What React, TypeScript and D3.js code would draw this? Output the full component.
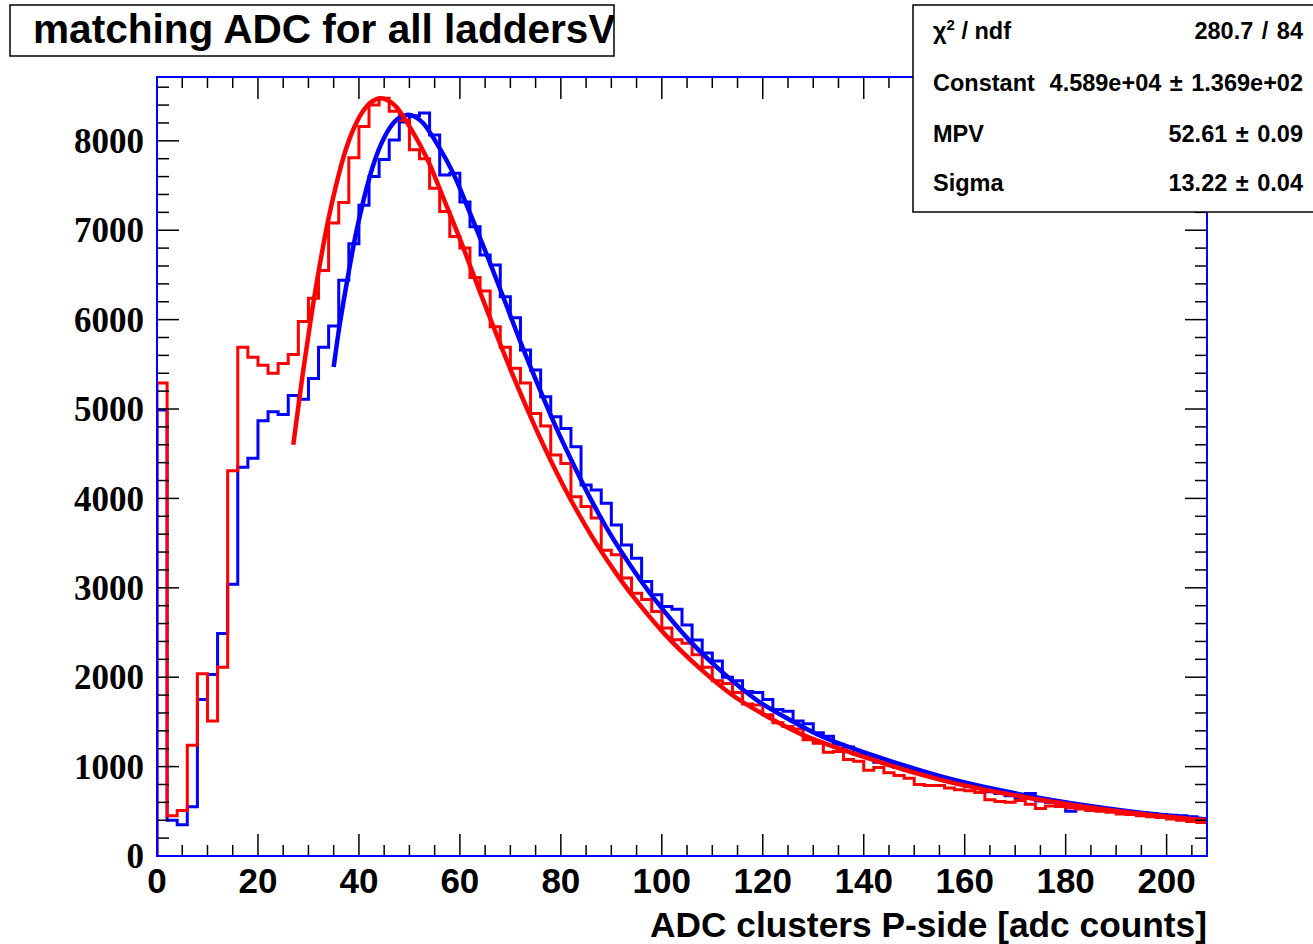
import React from 'react';
import * as d3 from 'd3';

// ---------------- data ----------------
const BIN_WIDTH = 2;
const X_DOMAIN = [0, 208];
const Y_DOMAIN = [0, 8714];

// red histogram, bins [0,2), [2,4), ... [206,208)
const redCounts = [
  5290, 450, 510, 1240, 2040, 1510, 2110, 4310, 5690, 5580,
  5490, 5400, 5510, 5610, 5980, 6240, 6550, 7080, 7310, 7810,
  8160, 8400, 8475, 8330, 8230, 7900, 7800, 7470, 7210, 6930,
  6800, 6470, 6320, 5920, 5690, 5455, 5290, 4950, 4810, 4485,
  4390, 4020, 3910, 3780, 3420, 3370, 3110, 2940, 2870, 2735,
  2550, 2420, 2380, 2250, 2110, 1960, 1930, 1830, 1700, 1690,
  1580, 1490, 1450, 1420, 1300, 1260, 1160, 1170, 1080, 1060,
  960, 990, 930, 900, 870, 800, 790, 790, 760, 740,
  730, 710, 630, 610, 600, 620, 580, 530, 560, 555,
  540, 525, 510, 500, 490, 470, 465, 450, 440, 430,
  415, 400, 385, 375,
];

// blue histogram
const blueCounts = [
  4990, 400, 350, 550, 1750, 2030, 2490, 3040, 4350, 4450,
  4870, 4970, 4940, 5150, 5110, 5340, 5690, 5930, 6440, 6850,
  7280, 7600, 7790, 8010, 8210, 8280, 8310, 8065, 7617, 7636,
  7317, 7040, 6723, 6611, 6257, 6020, 5660, 5436, 5137, 4913,
  4783, 4578, 4150, 4094, 3945, 3703, 3480, 3331, 3070, 2921,
  2791, 2760, 2585, 2417, 2270, 2180, 2000, 1960, 1840, 1830,
  1750, 1640, 1620, 1510, 1480, 1380, 1340, 1250, 1220, 1140,
  1110, 1050, 1040, 990, 960, 930, 900, 870, 840, 810,
  780, 760, 720, 700, 675, 650, 700, 615, 600, 590,
  500, 560, 545, 530, 520, 505, 495, 485, 475, 465,
  455, 450, 440, 420,
];

// fitted curves (sample points of the drawn fit lines)
const blueFitX = [
  35.0, 36.09, 37.74, 39.39, 41.04, 42.7, 44.35, 46.0, 47.8, 49.66, 51.1, 52.61, 54.27, 55.92,
  57.57, 59.22, 60.88, 62.53, 64.18, 65.83, 69.14, 72.44, 75.75, 79.05, 82.36, 85.66, 88.97,
  92.27, 95.58, 98.88, 105.49, 112.1, 118.71, 125.32, 131.93, 145.15, 158.37, 171.59, 184.81,
  198.03, 208,
];
const blueFitY = [
  5470, 5906, 6457, 6957, 7365, 7705, 7957, 8136, 8251, 8292, 8270, 8205, 8077, 7925,
  7760, 7572, 7346, 7118, 6888, 6654, 6172, 5686, 5231, 4795, 4396, 4020, 3680,
  3378, 3102, 2850, 2409, 2051, 1748, 1524, 1331, 1065, 844, 684, 560,
  463, 407,
];

const redFitX = [
  27.0, 28.9, 30.55, 32.2, 33.9, 35.58, 37.25, 38.93, 40.6, 42.42, 44.31, 45.77, 47.3, 48.98,
  50.65, 52.33, 54.0, 55.68, 57.35, 59.03, 60.7, 64.05, 67.4, 70.75, 74.1, 77.45, 80.8, 84.15,
  87.5, 90.85, 94.2, 100.9, 107.6, 114.3, 121.0, 127.7, 141.1, 154.5, 167.9, 181.3, 194.7, 208,
];
const redFitY = [
  4600, 5404, 6036, 6599, 7110, 7527, 7875, 8132, 8315, 8433, 8475, 8451, 8386, 8254,
  8100, 7931, 7739, 7509, 7274, 7040, 6801, 6299, 5811, 5342, 4901, 4488, 4108, 3766,
  3452, 3170, 2912, 2462, 2096, 1787, 1557, 1360, 1088, 863, 699, 572, 474, 399,
];

const xTickLabels = [0, 20, 40, 60, 80, 100, 120, 140, 160, 180, 200];
const yTickLabels = [0, 1000, 2000, 3000, 4000, 5000, 6000, 7000, 8000];

const titleText = 'matching ADC for all laddersV';
const xAxisTitle = 'ADC clusters P-side [adc counts]';
const statNames = ['chi2', 'Constant', 'MPV', 'Sigma'];
const statValues = ['280.7 / 84', '4.589e+04 \u00b1 1.369e+02', '52.61 \u00b1 0.09', '13.22 \u00b1 0.04'];

// ---------------- layout ----------------
const W = 1313;
const H = 944;
const M = { left: 157, right: 1207, top: 77, bottom: 856 };
const SANS = '"Liberation Sans", Arial, Helvetica, sans-serif';
const SERIF = '"Liberation Serif", "Times New Roman", serif';

export default function App() {
  const x = d3.scaleLinear().domain(X_DOMAIN).range([M.left, M.right]);
  const y = d3.scaleLinear().domain(Y_DOMAIN).range([M.bottom, M.top]);

  const histPath = (counts: number[]) => {
    const pts: [number, number][] = [[0, 0]];
    counts.forEach((c, i) => pts.push([i * BIN_WIDTH, c]));
    pts.push([counts.length * BIN_WIDTH, counts[counts.length - 1]]);
    return d3
      .line<[number, number]>()
      .x((d) => x(d[0]))
      .y((d) => y(d[1]))
      .curve(d3.curveStepAfter)(pts) as string;
  };

  const fitPath = (xs: number[], ys: number[]) =>
    d3
      .line<number>()
      .x((_, i) => x(xs[i]))
      .y((d) => y(d))
      .curve(d3.curveCatmullRom.alpha(0.5))(ys) as string;

  const xMinor = d3.range(0, 208.01, 5);
  const yMinor = d3.range(0, 8714, 200);

  return (
    <svg
      width={W}
      height={H}
      style={{ position: 'fixed', left: 0, top: 0, background: '#fff' }}
      xmlns="http://www.w3.org/2000/svg"
    >
      <defs>
        <clipPath id="frameClip">
          <rect x={M.left} y={M.top} width={M.right - M.left} height={M.bottom - M.top} />
        </clipPath>
        <clipPath id="titleClip">
          <rect x={10} y={5} width={604} height={51} />
        </clipPath>
      </defs>
      <rect x={0} y={0} width={W} height={H} fill="#fff" />

      {/* data */}
      <g clipPath="url(#frameClip)" fill="none">
        <path d={histPath(blueCounts)} stroke="#0000ff" strokeWidth={3} />
        <path d={histPath(redCounts)} stroke="#ff0000" strokeWidth={3} />
        <path d={fitPath(blueFitX, blueFitY)} stroke="#0000ff" strokeWidth={4.5} strokeLinejoin="round" />
        <path d={fitPath(redFitX, redFitY)} stroke="#ff0000" strokeWidth={4.5} strokeLinejoin="round" />
      </g>

      {/* ticks */}
      <g stroke="#000" strokeWidth={1.5}>
        {xMinor.map((v) => {
          const major = v % 20 === 0;
          const len = major ? 22 : 11;
          return (
            <g key={'xt' + v}>
              <line x1={x(v)} x2={x(v)} y1={M.bottom} y2={M.bottom - len} />
              <line x1={x(v)} x2={x(v)} y1={M.top} y2={M.top + len} />
            </g>
          );
        })}
        {yMinor.map((v) => {
          const major = v % 1000 === 0;
          const len = major ? 22 : 12;
          return (
            <g key={'yt' + v}>
              <line x1={M.left} x2={M.left + len} y1={y(v)} y2={y(v)} />
              <line x1={M.right} x2={M.right - len} y1={y(v)} y2={y(v)} />
            </g>
          );
        })}
      </g>

      {/* frame */}
      <rect
        x={M.left}
        y={M.top}
        width={M.right - M.left}
        height={M.bottom - M.top}
        fill="none"
        stroke="#0000ff"
        strokeWidth={2}
      />

      {/* tick labels */}
      <g fontFamily={SANS} fontWeight="bold" fontSize={35} fill="#000" textAnchor="middle">
        {xTickLabels.map((v) => (
          <text key={'xl' + v} x={x(v)} y={893}>
            {v}
          </text>
        ))}
      </g>
      <g fontFamily={SERIF} fontWeight="bold" fontSize={35} fill="#000" textAnchor="end">
        {yTickLabels.map((v) => (
          <text key={'yl' + v} x={144} y={y(v)} dy="0.35em">
            {v}
          </text>
        ))}
      </g>

      {/* axis title */}
      <text x={M.right} y={937} textAnchor="end" fontFamily={SANS} fontWeight="bold" fontSize={35.3} fill="#000">
        {xAxisTitle}
      </text>

      {/* title box */}
      <rect x={10} y={5} width={604} height={51} fill="#fff" stroke="#000" strokeWidth={1.5} />
      <g clipPath="url(#titleClip)">
        <text x={33} y={43} fontFamily={SANS} fontWeight="bold" fontSize={40.6} fill="#000">
          {titleText}
        </text>
      </g>

      {/* stats box */}
      <rect x={913} y={5} width={420} height={207} fill="#fff" stroke="#000" strokeWidth={1.5} />
      <g fontFamily={SANS} fontWeight="bold" fontSize={23.5} fill="#000">
        {statNames.map((n, i) => {
          const by = [39, 91, 142, 191][i];
          return (
            <g key={n}>
              {n === 'chi2' ? (
                <text x={933} y={by}>
                  {'\u03c7'}
                  <tspan dy={-9} fontSize={15}>
                    2
                  </tspan>
                  <tspan dy={9}>{' / ndf'}</tspan>
                </text>
              ) : (
                <text x={933} y={by}>
                  {n}
                </text>
              )}
              <text x={1303} y={by} textAnchor="end" wordSpacing={2}>
                {statValues[i]}
              </text>
            </g>
          );
        })}
      </g>
    </svg>
  );
}
